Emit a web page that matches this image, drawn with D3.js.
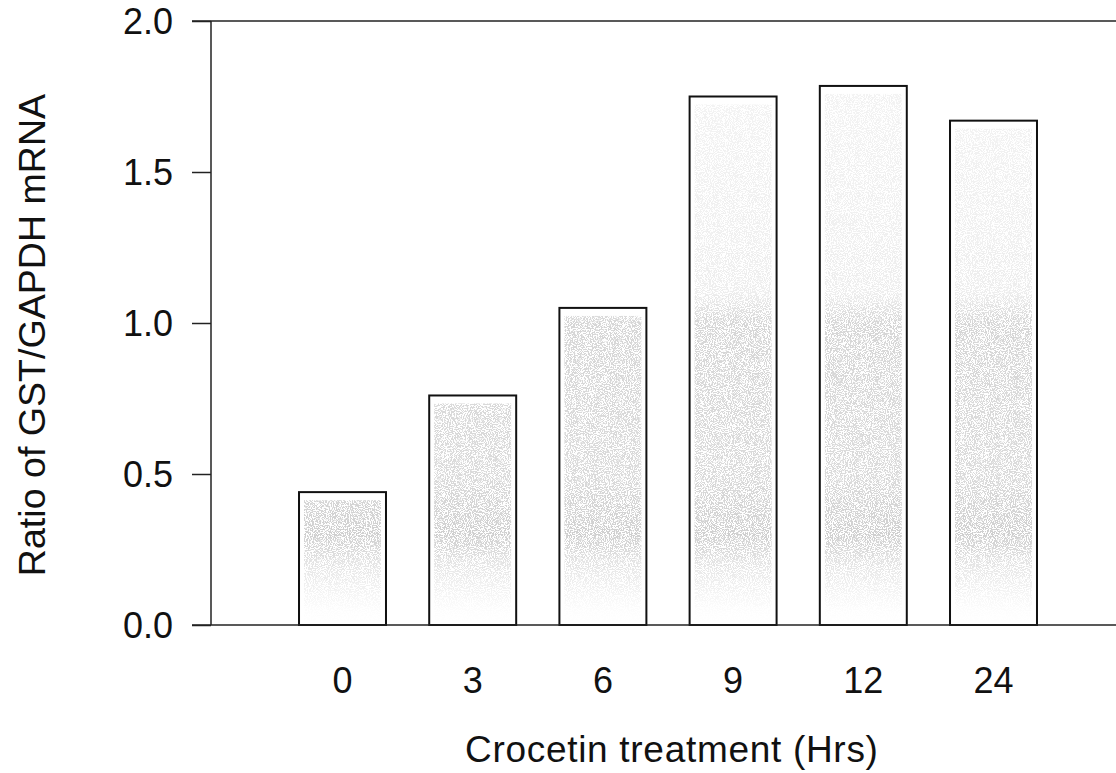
<!DOCTYPE html>
<html>
<head>
<meta charset="utf-8">
<script src="https://cdn.jsdelivr.net/npm/d3@7"></script>
<style>
  html, body { margin: 0; padding: 0; background: #fff; }
  svg { display: block; font-family: "Liberation Sans", Arial, sans-serif; }
</style>
</head>
<body>
<svg id="chart" width="1116" height="773"></svg>
<script>
const categories = ["0", "3", "6", "9", "12", "24"];
const ratios = [0.44, 0.76, 1.05, 1.75, 1.785, 1.67];
const yTicks = [0.0, 0.5, 1.0, 1.5, 2.0];
const xTitle = "Crocetin treatment (Hrs)";
const yTitle = "Ratio of GST/GAPDH mRNA";

const svg = d3.select("#chart");
const W = 1116, H = 773;
const axisX = 211, plotTop = 21, plotBottom = 625;

const y = d3.scaleLinear().domain([0, 2]).range([plotBottom, plotTop]);
const x = d3.scaleBand().domain(categories).range([277.4, 1058.6])
  .paddingInner(0.332).paddingOuter(0.166);

// speckle filter to imitate the scanned stipple
const defs = svg.append("defs");
const f = defs.append("filter").attr("id", "speckle").attr("x", 0).attr("y", 0).attr("width", 1).attr("height", 1);
f.append("feTurbulence").attr("type", "fractalNoise").attr("baseFrequency", 0.95).attr("numOctaves", 2).attr("seed", 7).attr("result", "noise");
f.append("feColorMatrix").attr("in", "noise").attr("type", "matrix")
  .attr("values", "0 0 0 0 0.35  0 0 0 0 0.35  0 0 0 0 0.35  0 0 0 -14 7.6")
  .attr("result", "dots");
f.append("feComposite").attr("in", "dots").attr("in2", "SourceGraphic").attr("operator", "in");

// density profile in data space (stipple denser between ~0.2 and ~1.05)
const grad = defs.append("linearGradient").attr("id", "fade")
  .attr("gradientUnits", "userSpaceOnUse")
  .attr("x1", 0).attr("x2", 0).attr("y1", y(1.8)).attr("y2", y(0));
const stops = [[1.8, 0.25], [1.1, 0.35], [1.0, 0.85], [0.5, 0.75], [0.3, 1.0], [0.18, 0.45], [0.05, 0.05], [0, 0]];
stops.forEach(([v, o]) => {
  grad.append("stop").attr("offset", ((y(v) - y(1.8)) / (y(0) - y(1.8)) * 100) + "%")
    .attr("stop-color", "#000").attr("stop-opacity", o);
});

// bars
const bars = svg.append("g");
bars.selectAll("rect.bar").data(ratios).join("rect")
  .attr("class", "bar")
  .attr("x", (d, i) => x(categories[i]))
  .attr("y", d => y(d))
  .attr("width", x.bandwidth())
  .attr("height", d => y(0) - y(d))
  .attr("fill", "#fff");
bars.selectAll("rect.tex").data(ratios).join("rect")
  .attr("class", "tex")
  .attr("x", (d, i) => x(categories[i]) + 5)
  .attr("y", d => y(d) + 8)
  .attr("width", x.bandwidth() - 10)
  .attr("height", d => y(0) - y(d) - 12)
  .attr("fill", "url(#fade)")
  .attr("filter", "url(#speckle)")
  .attr("opacity", 0.5);
bars.selectAll("rect.outline").data(ratios).join("rect")
  .attr("class", "outline")
  .attr("x", (d, i) => x(categories[i]))
  .attr("y", d => y(d))
  .attr("width", x.bandwidth())
  .attr("height", d => y(0) - y(d))
  .attr("fill", "none")
  .attr("stroke", "#111")
  .attr("stroke-width", 2);

// frame lines
const lineCol = "#222";
svg.append("line").attr("x1", 192).attr("x2", W).attr("y1", plotTop).attr("y2", plotTop)
  .attr("stroke", lineCol).attr("stroke-width", 1.5);
svg.append("line").attr("x1", 192).attr("x2", W).attr("y1", plotBottom).attr("y2", plotBottom)
  .attr("stroke", lineCol).attr("stroke-width", 1.5);

// y axis
const yAxis = d3.axisLeft(y).tickValues(yTicks).tickFormat(d3.format(".1f")).tickSize(19).tickPadding(19);
const gy = svg.append("g").attr("transform", `translate(${axisX},0)`).call(yAxis);
gy.select(".domain").attr("stroke", lineCol).attr("stroke-width", 1.5).attr("d", `M0,${plotTop}V${plotBottom}`);
gy.selectAll(".tick line").attr("stroke", lineCol).attr("stroke-width", 1.5);
gy.selectAll(".tick text").attr("font-size", 36).attr("fill", "#111")
  .attr("font-family", "Liberation Sans, Arial, sans-serif").attr("dy", "0.36em");

// x axis labels (no ticks)
const xAxis = d3.axisBottom(x).tickSize(0).tickPadding(0);
const gx = svg.append("g").attr("transform", `translate(0,${plotBottom})`).call(xAxis);
gx.select(".domain").remove();
gx.selectAll(".tick text").attr("font-size", 36).attr("fill", "#111")
  .attr("font-family", "Liberation Sans, Arial, sans-serif")
  .attr("y", 68).attr("dy", 0);

// titles
svg.append("text").attr("x", 465).attr("y", 762).attr("text-anchor", "start")
  .attr("font-size", 37).attr("letter-spacing", 0.7).attr("fill", "#111").text(xTitle);
svg.append("text").attr("transform", "translate(45,335) rotate(-90)").attr("text-anchor", "middle")
  .attr("font-size", 37.6).attr("fill", "#111").text(yTitle);
</script>
</body>
</html>
